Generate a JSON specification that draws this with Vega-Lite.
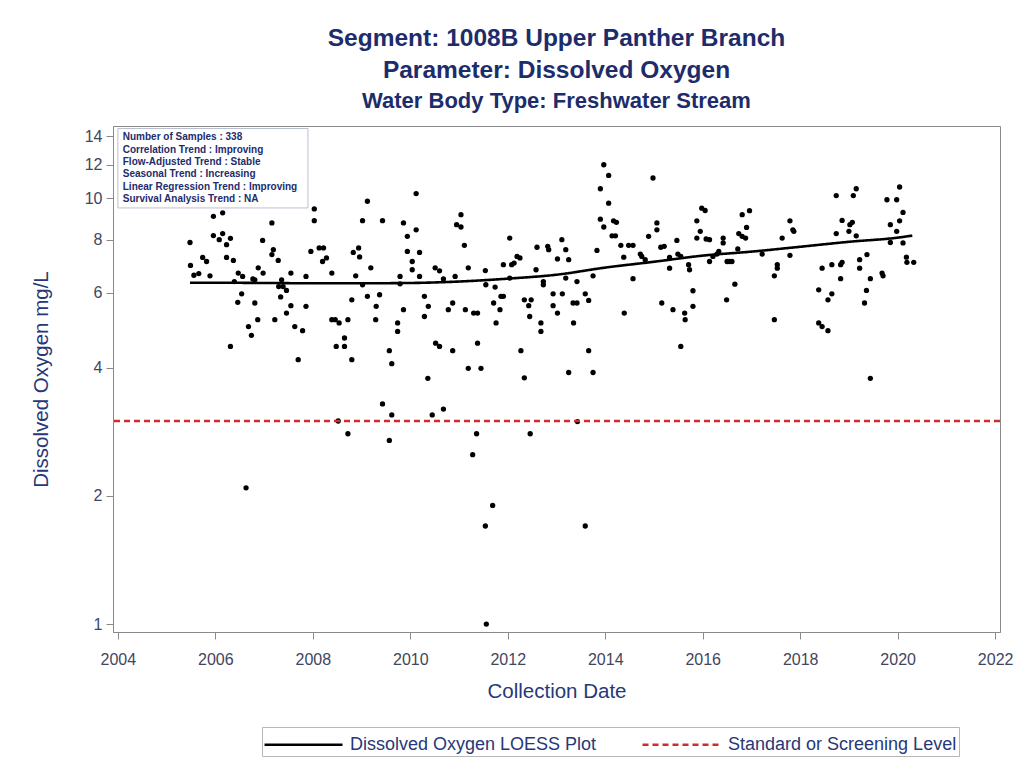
{
  "$schema": "https://vega.github.io/schema/vega-lite/v6.json",
  "autosize": "none",
  "width": 887,
  "height": 506,
  "padding": {"left": 113, "top": 126, "right": 26, "bottom": 135},
  "background": "white",
  "config": {
    "font": "Liberation Sans",
    "view": {"stroke": "#8a8a8a", "strokeWidth": 1},
    "axis": {"grid": false, "domainColor": "#8a8a8a", "tickColor": "#8a8a8a", "labelColor": "#41465e", "titleColor": "#263877", "labelFont": "Liberation Sans", "titleFont": "Liberation Sans", "labelFontSize": 16, "titleFontSize": 20.5, "titleFontWeight": "normal", "tickSize": 7}
  },
  "title": {
    "text": ["Segment: 1008B  Upper Panther Branch", "Parameter: Dissolved Oxygen"],
    "subtitle": "Water Body Type: Freshwater Stream",
    "anchor": "middle",
    "font": "Liberation Sans",
    "fontSize": 24.5,
    "fontWeight": "bold",
    "color": "#1d2c6b",
    "lineHeight": 32,
    "subtitleFont": "Liberation Sans",
    "subtitleFontSize": 22,
    "subtitleFontWeight": "bold",
    "subtitleColor": "#1d2c6b",
    "subtitlePadding": 8,
    "offset": 13
  },
  "datasets": {
    "pts": [
      {"date": 2005.96, "do": 9.08}, {"date": 2006.15, "do": 9.25}, {"date": 2005.96, "do": 8.18}, {"date": 2006.08, "do": 8.0},
      {"date": 2006.15, "do": 8.27}, {"date": 2006.23, "do": 7.79}, {"date": 2006.31, "do": 8.06}, {"date": 2006.23, "do": 7.27},
      {"date": 2006.37, "do": 7.15}, {"date": 2005.74, "do": 7.27}, {"date": 2005.82, "do": 7.11}, {"date": 2005.48, "do": 7.88},
      {"date": 2005.49, "do": 6.96}, {"date": 2005.56, "do": 6.6}, {"date": 2005.66, "do": 6.66}, {"date": 2005.89, "do": 6.58},
      {"date": 2006.47, "do": 6.68}, {"date": 2006.56, "do": 6.56}, {"date": 2006.39, "do": 6.38}, {"date": 2006.54, "do": 5.97},
      {"date": 2006.46, "do": 5.7}, {"date": 2006.31, "do": 4.49}, {"date": 2006.68, "do": 5.0}, {"date": 2006.74, "do": 4.77},
      {"date": 2006.81, "do": 5.68}, {"date": 2006.87, "do": 5.19}, {"date": 2006.81, "do": 6.44}, {"date": 2006.77, "do": 6.47},
      {"date": 2006.88, "do": 6.87}, {"date": 2006.97, "do": 7.97}, {"date": 2006.98, "do": 6.68}, {"date": 2007.16, "do": 8.76},
      {"date": 2007.19, "do": 7.58}, {"date": 2007.16, "do": 7.38}, {"date": 2007.29, "do": 7.15}, {"date": 2007.22, "do": 5.19},
      {"date": 2007.36, "do": 6.44}, {"date": 2007.39, "do": 6.21}, {"date": 2007.3, "do": 6.21}, {"date": 2007.34, "do": 5.87},
      {"date": 2007.46, "do": 6.08}, {"date": 2007.46, "do": 5.38}, {"date": 2007.55, "do": 5.6}, {"date": 2007.55, "do": 6.68},
      {"date": 2007.63, "do": 5.0}, {"date": 2007.7, "do": 4.18}, {"date": 2007.79, "do": 4.89}, {"date": 2007.86, "do": 6.56},
      {"date": 2007.86, "do": 5.58}, {"date": 2008.03, "do": 9.45}, {"date": 2008.03, "do": 8.87}, {"date": 2007.96, "do": 7.51},
      {"date": 2008.13, "do": 7.65}, {"date": 2008.22, "do": 7.65}, {"date": 2008.2, "do": 7.11}, {"date": 2008.28, "do": 7.25},
      {"date": 2008.39, "do": 6.68}, {"date": 2008.39, "do": 5.19}, {"date": 2008.46, "do": 5.19}, {"date": 2008.54, "do": 5.1},
      {"date": 2008.48, "do": 4.49}, {"date": 2008.65, "do": 4.7}, {"date": 2008.65, "do": 4.49}, {"date": 2008.72, "do": 5.19},
      {"date": 2008.8, "do": 5.78}, {"date": 2008.8, "do": 4.18}, {"date": 2008.83, "do": 7.47}, {"date": 2008.88, "do": 6.58},
      {"date": 2008.94, "do": 7.65}, {"date": 2008.96, "do": 7.29}, {"date": 2009.12, "do": 9.85}, {"date": 2009.02, "do": 8.87},
      {"date": 2009.19, "do": 6.87}, {"date": 2009.02, "do": 6.27}, {"date": 2009.12, "do": 5.89}, {"date": 2009.37, "do": 5.94},
      {"date": 2009.3, "do": 5.58}, {"date": 2009.29, "do": 5.19}, {"date": 2009.43, "do": 8.87}, {"date": 2009.57, "do": 4.39},
      {"date": 2009.62, "do": 4.09}, {"date": 2009.43, "do": 3.29}, {"date": 2009.62, "do": 3.1}, {"date": 2009.74, "do": 5.1},
      {"date": 2009.74, "do": 4.87}, {"date": 2009.79, "do": 6.56}, {"date": 2009.79, "do": 6.3}, {"date": 2009.86, "do": 5.48},
      {"date": 2009.86, "do": 8.76}, {"date": 2009.94, "do": 8.15}, {"date": 2009.94, "do": 7.51}, {"date": 2010.04, "do": 7.11},
      {"date": 2010.04, "do": 6.8}, {"date": 2010.12, "do": 8.44}, {"date": 2010.12, "do": 10.27}, {"date": 2010.19, "do": 7.47},
      {"date": 2010.19, "do": 6.56}, {"date": 2010.29, "do": 5.89}, {"date": 2010.29, "do": 5.28}, {"date": 2010.37, "do": 5.58},
      {"date": 2010.36, "do": 3.78}, {"date": 2010.45, "do": 3.1}, {"date": 2010.52, "do": 4.57}, {"date": 2010.6, "do": 4.49},
      {"date": 2010.68, "do": 3.2}, {"date": 2010.68, "do": 6.47}, {"date": 2010.78, "do": 5.48}, {"date": 2010.87, "do": 5.68},
      {"date": 2010.87, "do": 4.39}, {"date": 2010.51, "do": 6.87}, {"date": 2010.6, "do": 6.76}, {"date": 2010.92, "do": 6.56},
      {"date": 2010.95, "do": 8.68}, {"date": 2011.04, "do": 9.16}, {"date": 2011.04, "do": 8.57}, {"date": 2011.11, "do": 7.76},
      {"date": 2011.19, "do": 6.87}, {"date": 2011.13, "do": 5.48}, {"date": 2011.3, "do": 5.38}, {"date": 2011.38, "do": 5.38},
      {"date": 2011.19, "do": 3.99}, {"date": 2011.38, "do": 4.57}, {"date": 2011.36, "do": 2.8}, {"date": 2011.28, "do": 2.5},
      {"date": 2009.57, "do": 2.7}, {"date": 2008.72, "do": 2.8}, {"date": 2008.52, "do": 3.0}, {"date": 2007.02, "do": 10.4},
      {"date": 2006.63, "do": 2.09},
      {"date": 2011.69, "do": 1.9}, {"date": 2011.54, "do": 1.7}, {"date": 2011.56, "do": 1.0}, {"date": 2012.46, "do": 2.8},
      {"date": 2013.43, "do": 2.99}, {"date": 2013.59, "do": 1.7},
      {"date": 2011.54, "do": 6.77}, {"date": 2011.55, "do": 6.27}, {"date": 2011.45, "do": 3.99}, {"date": 2011.74, "do": 6.19},
      {"date": 2011.71, "do": 5.68}, {"date": 2011.76, "do": 5.1}, {"date": 2011.84, "do": 5.48}, {"date": 2011.86, "do": 5.89},
      {"date": 2011.91, "do": 5.89}, {"date": 2011.91, "do": 6.99}, {"date": 2012.04, "do": 8.07}, {"date": 2012.08, "do": 6.99},
      {"date": 2012.13, "do": 7.05}, {"date": 2012.19, "do": 7.31}, {"date": 2012.25, "do": 7.25}, {"date": 2012.04, "do": 6.5},
      {"date": 2012.27, "do": 4.39}, {"date": 2012.34, "do": 5.78}, {"date": 2012.34, "do": 3.79}, {"date": 2012.43, "do": 5.6},
      {"date": 2012.45, "do": 5.28}, {"date": 2012.48, "do": 5.78}, {"date": 2012.58, "do": 6.8}, {"date": 2012.6, "do": 7.68},
      {"date": 2012.68, "do": 5.1}, {"date": 2012.68, "do": 4.87}, {"date": 2012.73, "do": 6.38}, {"date": 2012.73, "do": 6.27},
      {"date": 2012.82, "do": 7.72}, {"date": 2012.84, "do": 7.58}, {"date": 2012.93, "do": 5.97}, {"date": 2012.93, "do": 5.6},
      {"date": 2013.02, "do": 7.21}, {"date": 2013.02, "do": 5.38}, {"date": 2013.12, "do": 5.97}, {"date": 2013.11, "do": 8.0},
      {"date": 2013.19, "do": 7.58}, {"date": 2013.19, "do": 6.5}, {"date": 2013.25, "do": 7.18}, {"date": 2013.25, "do": 3.9},
      {"date": 2013.35, "do": 5.1}, {"date": 2013.34, "do": 5.68}, {"date": 2013.42, "do": 6.38}, {"date": 2013.42, "do": 5.68},
      {"date": 2013.59, "do": 5.97}, {"date": 2013.66, "do": 5.76}, {"date": 2013.66, "do": 4.39}, {"date": 2013.75, "do": 3.9},
      {"date": 2013.75, "do": 6.58}, {"date": 2013.83, "do": 7.55}, {"date": 2013.9, "do": 10.54}, {"date": 2013.97, "do": 12.0},
      {"date": 2014.07, "do": 11.33}, {"date": 2014.07, "do": 9.75}, {"date": 2013.9, "do": 8.94}, {"date": 2013.97, "do": 8.57},
      {"date": 2014.17, "do": 8.86}, {"date": 2014.23, "do": 8.79}, {"date": 2014.14, "do": 8.17}, {"date": 2014.21, "do": 8.17},
      {"date": 2014.32, "do": 7.76}, {"date": 2014.38, "do": 7.28}, {"date": 2014.39, "do": 5.38}, {"date": 2014.48, "do": 7.76},
      {"date": 2014.57, "do": 7.76}, {"date": 2014.57, "do": 6.48}, {"date": 2014.72, "do": 7.4}, {"date": 2014.75, "do": 7.31},
      {"date": 2014.82, "do": 7.18}, {"date": 2014.89, "do": 8.15}, {"date": 2014.98, "do": 11.17}, {"date": 2015.06, "do": 8.76},
      {"date": 2015.06, "do": 8.44}, {"date": 2015.14, "do": 7.68}, {"date": 2015.21, "do": 7.72}, {"date": 2015.16, "do": 5.68},
      {"date": 2015.32, "do": 7.27}, {"date": 2015.32, "do": 6.86}, {"date": 2015.39, "do": 5.48}, {"date": 2015.47, "do": 7.97},
      {"date": 2015.49, "do": 7.4}, {"date": 2015.55, "do": 7.31}, {"date": 2015.55, "do": 4.49}, {"date": 2015.63, "do": 5.38},
      {"date": 2015.64, "do": 5.19}, {"date": 2015.71, "do": 6.99}, {"date": 2015.73, "do": 6.8}, {"date": 2015.8, "do": 6.07},
      {"date": 2015.8, "do": 5.58}, {"date": 2015.88, "do": 8.86}, {"date": 2015.88, "do": 8.07}, {"date": 2015.95, "do": 8.37},
      {"date": 2015.98, "do": 9.49}, {"date": 2016.05, "do": 9.37}, {"date": 2016.07, "do": 8.03}, {"date": 2016.14, "do": 8.0},
      {"date": 2016.14, "do": 7.11}, {"date": 2016.21, "do": 7.31}, {"date": 2016.29, "do": 7.4}, {"date": 2016.33, "do": 7.51},
      {"date": 2016.42, "do": 8.07}, {"date": 2016.42, "do": 7.86}, {"date": 2016.49, "do": 5.78}, {"date": 2016.5, "do": 7.11},
      {"date": 2016.55, "do": 7.11}, {"date": 2016.6, "do": 7.11}, {"date": 2016.66, "do": 6.29}, {"date": 2016.72, "do": 7.61},
      {"date": 2016.74, "do": 8.27}, {"date": 2016.81, "do": 8.15}, {"date": 2016.88, "do": 8.07}, {"date": 2016.81, "do": 9.16},
      {"date": 2016.9, "do": 8.55}, {"date": 2016.96, "do": 9.36}, {"date": 2017.22, "do": 7.4},
      {"date": 2017.79, "do": 8.86}, {"date": 2017.85, "do": 8.44}, {"date": 2017.87, "do": 8.37}, {"date": 2017.63, "do": 8.07},
      {"date": 2017.79, "do": 7.35}, {"date": 2017.53, "do": 6.99}, {"date": 2017.53, "do": 6.86}, {"date": 2017.47, "do": 6.58},
      {"date": 2017.47, "do": 5.19}, {"date": 2018.38, "do": 6.1}, {"date": 2018.45, "do": 6.86}, {"date": 2018.57, "do": 5.78},
      {"date": 2018.65, "do": 5.97}, {"date": 2018.65, "do": 6.99}, {"date": 2018.83, "do": 6.99}, {"date": 2018.86, "do": 7.08},
      {"date": 2018.83, "do": 6.48}, {"date": 2018.74, "do": 8.27}, {"date": 2018.74, "do": 10.16}, {"date": 2018.86, "do": 8.88},
      {"date": 2019.0, "do": 8.37}, {"date": 2019.02, "do": 8.68}, {"date": 2019.07, "do": 8.79}, {"date": 2019.09, "do": 10.16},
      {"date": 2019.15, "do": 10.54}, {"date": 2019.15, "do": 8.17}, {"date": 2019.22, "do": 7.18}, {"date": 2019.22, "do": 6.86},
      {"date": 2019.37, "do": 7.38}, {"date": 2019.44, "do": 6.48}, {"date": 2019.36, "do": 6.08}, {"date": 2019.32, "do": 5.68},
      {"date": 2019.44, "do": 3.78}, {"date": 2019.68, "do": 6.68}, {"date": 2019.7, "do": 6.58}, {"date": 2018.38, "do": 5.1},
      {"date": 2018.45, "do": 5.0}, {"date": 2018.57, "do": 4.89}, {"date": 2019.78, "do": 9.93}, {"date": 2019.98, "do": 9.93},
      {"date": 2019.85, "do": 8.68}, {"date": 2019.98, "do": 8.37}, {"date": 2020.04, "do": 8.86}, {"date": 2020.11, "do": 9.27},
      {"date": 2020.04, "do": 10.64}, {"date": 2019.85, "do": 7.88}, {"date": 2020.11, "do": 7.86}, {"date": 2020.18, "do": 7.28},
      {"date": 2020.19, "do": 7.08}, {"date": 2020.33, "do": 7.08}
    ],
    "loess": [
      {"date": 2005.48, "fit": 6.34, "series": "Dissolved Oxygen LOESS Plot"},
      {"date": 2006.0, "fit": 6.34, "series": "Dissolved Oxygen LOESS Plot"},
      {"date": 2007.0, "fit": 6.33, "series": "Dissolved Oxygen LOESS Plot"},
      {"date": 2008.0, "fit": 6.32, "series": "Dissolved Oxygen LOESS Plot"},
      {"date": 2009.0, "fit": 6.32, "series": "Dissolved Oxygen LOESS Plot"},
      {"date": 2010.0, "fit": 6.33, "series": "Dissolved Oxygen LOESS Plot"},
      {"date": 2011.0, "fit": 6.38, "series": "Dissolved Oxygen LOESS Plot"},
      {"date": 2012.0, "fit": 6.48, "series": "Dissolved Oxygen LOESS Plot"},
      {"date": 2013.0, "fit": 6.62, "series": "Dissolved Oxygen LOESS Plot"},
      {"date": 2014.0, "fit": 6.88, "series": "Dissolved Oxygen LOESS Plot"},
      {"date": 2015.0, "fit": 7.1, "series": "Dissolved Oxygen LOESS Plot"},
      {"date": 2016.0, "fit": 7.34, "series": "Dissolved Oxygen LOESS Plot"},
      {"date": 2017.0, "fit": 7.5, "series": "Dissolved Oxygen LOESS Plot"},
      {"date": 2018.0, "fit": 7.7, "series": "Dissolved Oxygen LOESS Plot"},
      {"date": 2019.0, "fit": 7.91, "series": "Dissolved Oxygen LOESS Plot"},
      {"date": 2020.0, "fit": 8.09, "series": "Dissolved Oxygen LOESS Plot"},
      {"date": 2020.3, "fit": 8.18, "series": "Dissolved Oxygen LOESS Plot"}
    ],
    "std": [
      {"level": 3.0, "series": "Standard or Screening Level"}
    ]
  },
  "layer": [
    {
      "data": {"name": "pts"},
      "mark": {"type": "point", "filled": true, "shape": "circle", "size": 28, "color": "black", "opacity": 1},
      "encoding": {
        "x": {"field": "date", "type": "quantitative", "scale": {"domain": [2003.9, 2022.1], "nice": false, "zero": false},
              "axis": {"values": [2004, 2006, 2008, 2010, 2012, 2014, 2016, 2018, 2020, 2022], "format": "d", "title": "Collection Date", "labelPadding": 12, "titlePadding": 14}},
        "y": {"field": "do", "type": "quantitative", "scale": {"type": "log", "domain": [0.958, 14.8], "nice": false, "zero": false},
              "axis": {"values": [1, 2, 4, 6, 8, 10, 12, 14], "format": "d", "title": "Dissolved Oxygen  mg/L", "labelPadding": 4, "titlePadding": 33}}
      }
    },
    {
      "data": {"name": "loess"},
      "mark": {"type": "line", "strokeWidth": 2.6, "interpolate": "monotone"},
      "encoding": {
        "x": {"field": "date", "type": "quantitative"},
        "y": {"field": "fit", "type": "quantitative"},
        "color": {"field": "series", "type": "nominal",
                  "scale": {"domain": ["Dissolved Oxygen LOESS Plot", "Standard or Screening Level"], "range": ["#000000", "#d42a2a"]},
                  "legend": {"title": null, "orient": "none", "legendX": 149, "legendY": 601, "direction": "horizontal",
                             "symbolType": "M-1.07,0H4.5", "symbolSize": 784, "symbolStrokeWidth": 2.6, "labelFontSize": 18, "labelColor": "#263877",
                             "labelFont": "Liberation Sans", "labelLimit": 400, "strokeColor": "#b8b8b8", "padding": 2, "columnPadding": 40, "labelOffset": 55}},
        "strokeDash": {"field": "series", "type": "nominal",
                       "scale": {"domain": ["Dissolved Oxygen LOESS Plot", "Standard or Screening Level"], "range": [[1, 0], [6, 4]]},
                       "legend": {"title": null}}
      }
    },
    {
      "data": {"name": "std"},
      "mark": {"type": "rule", "strokeWidth": 2.6},
      "encoding": {
        "y": {"field": "level", "type": "quantitative"},
        "color": {"field": "series", "type": "nominal"},
        "strokeDash": {"field": "series", "type": "nominal"}
      }
    },
    {
      "data": {"values": [{}]},
      "mark": {"type": "rect", "fill": "white", "stroke": "#b9c0d0", "strokeWidth": 1},
      "encoding": {
        "x": {"datum": 2004.0, "type": "quantitative"},
        "x2": {"datum": 2007.9},
        "y": {"datum": 14.6, "type": "quantitative"},
        "y2": {"datum": 9.5}
      }
    },
    {
      "data": {"values": [{}]},
      "mark": {"type": "text", "align": "left", "baseline": "top", "font": "Liberation Sans", "fontSize": 10, "fontWeight": "bold", "color": "#1d2c6b", "lineHeight": 12.3,
               "text": ["Number of Samples : 338", "Correlation Trend : Improving", "Flow-Adjusted Trend : Stable", "Seasonal Trend : Increasing", "Linear Regression Trend : Improving", "Survival Analysis Trend : NA"]},
      "encoding": {
        "x": {"datum": 2004.1, "type": "quantitative"},
        "y": {"datum": 14.3, "type": "quantitative"}
      }
    }
  ]
}
